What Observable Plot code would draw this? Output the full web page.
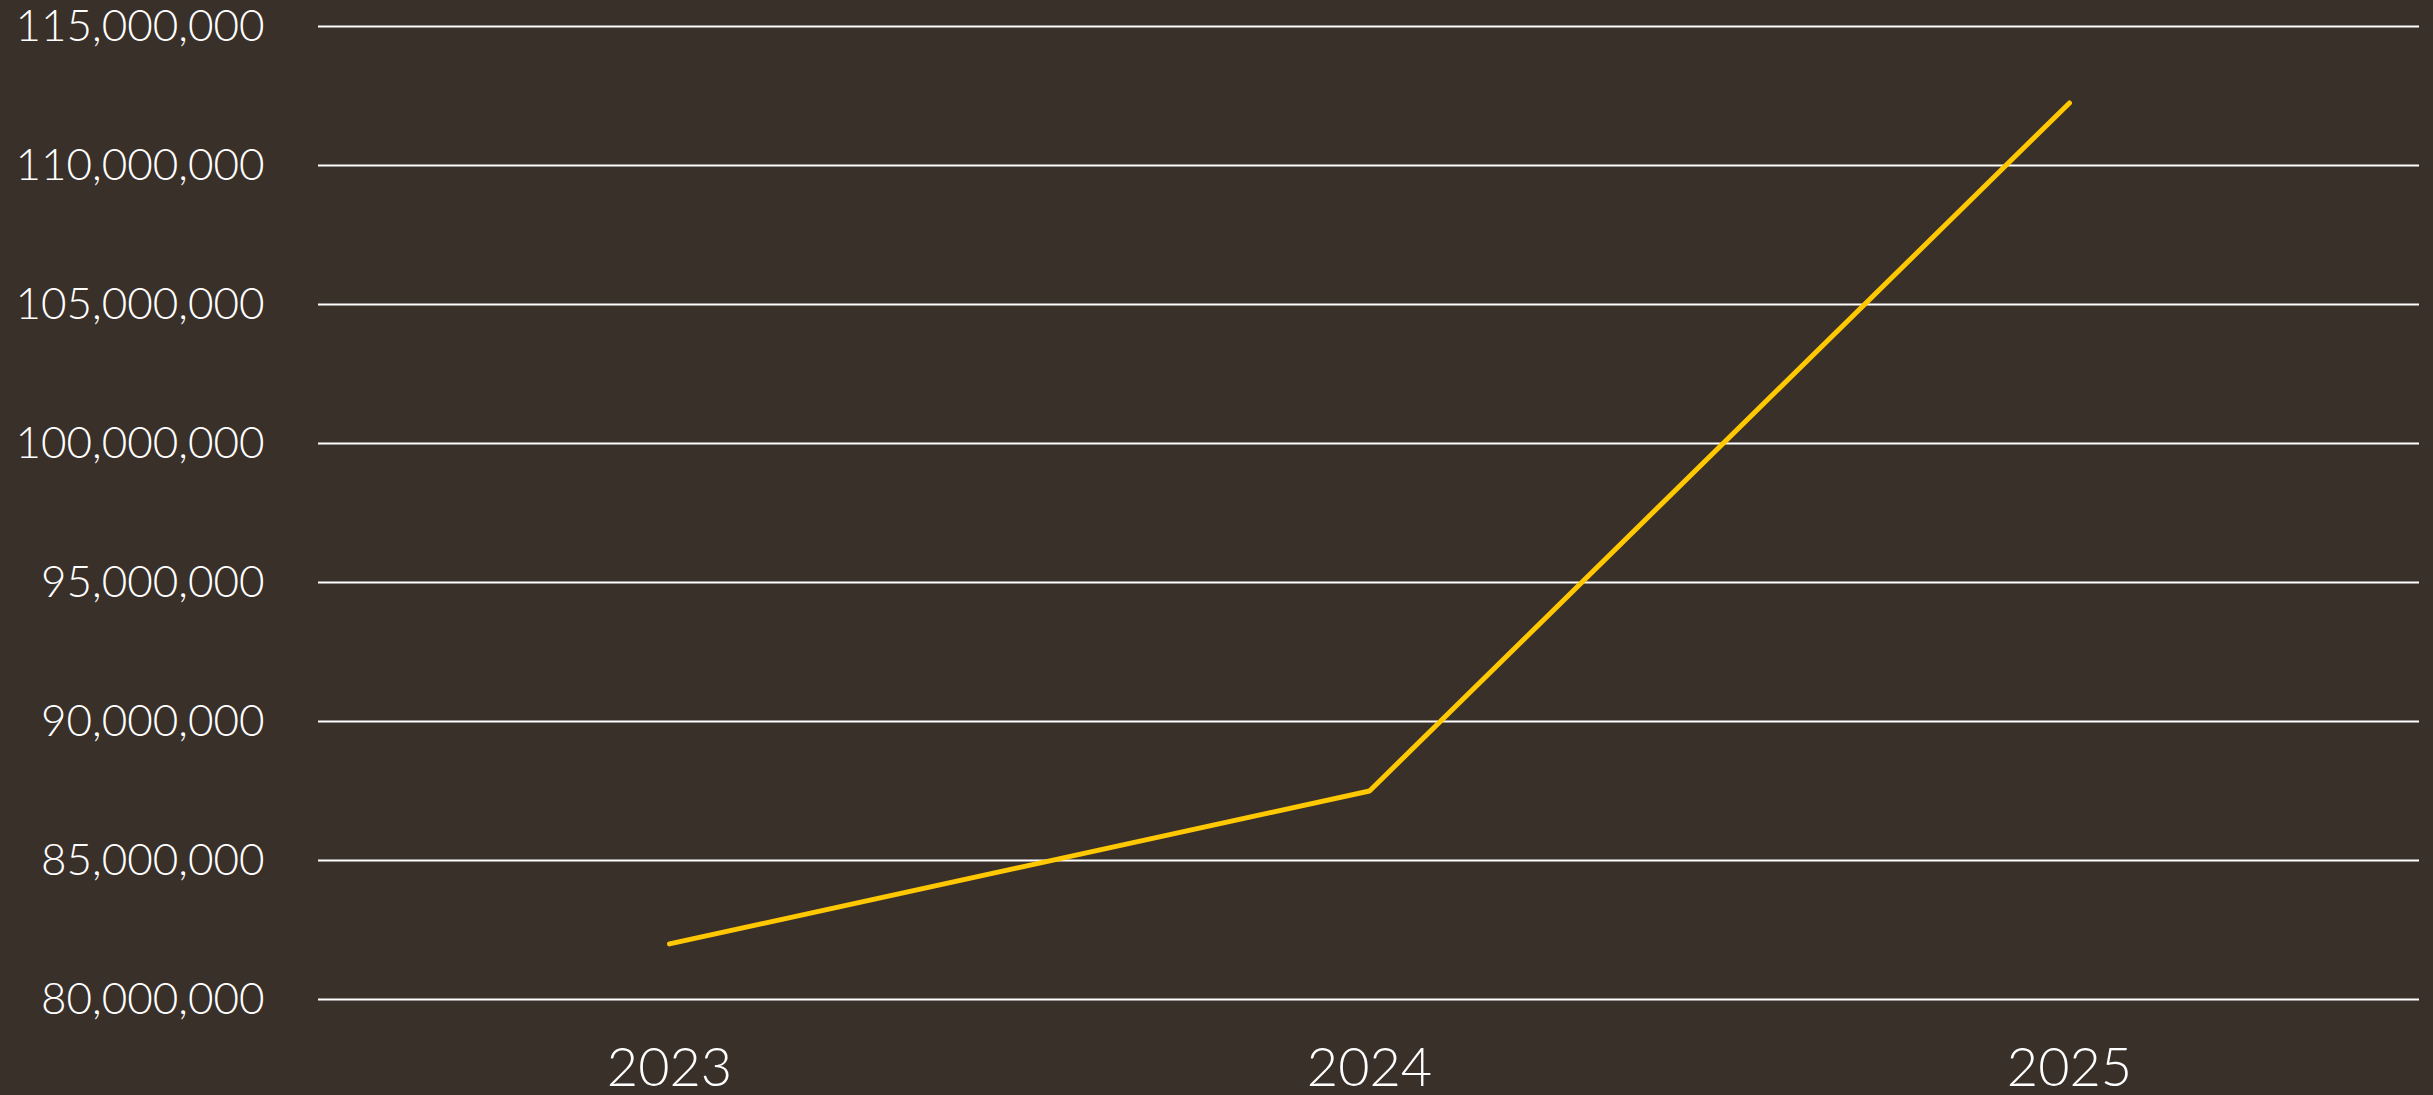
<!DOCTYPE html>
<html>
<head>
<meta charset="utf-8">
<script src="https://cdn.jsdelivr.net/npm/d3@7"></script>
<script src="https://cdn.jsdelivr.net/npm/@observablehq/plot@0.6"></script>
<style>
  html, body { margin: 0; padding: 0; background: #3a302a; }
</style>
</head>
<body>
<div id="chart"></div>
<script>
const years = ["2023", "2024", "2025"];
const values = [82000000, 87500000, 112250000];
const yTicks = [80000000, 85000000, 90000000, 95000000, 100000000, 105000000, 110000000, 115000000];

const data = years.map((year, i) => ({year, value: values[i]}));
const fmt = d3.format(",");

const chart = Plot.plot({
  width: 2433,
  height: 1095,
  marginLeft: 318,
  marginRight: 14,
  marginTop: 26,
  marginBottom: 96,
  style: {
    background: "#3a302a",
    color: "#ffffff",
    fontFamily: "Lato, 'Open Sans', sans-serif",
    fontWeight: 300
  },
  x: {type: "point", domain: years, padding: 0.5, label: null},
  y: {domain: [80000000, 115000000], label: null},
  marks: [
    Plot.ruleY(yTicks, {stroke: "#ffffff", strokeWidth: 2}),
    Plot.axisY({ticks: yTicks, tickFormat: fmt, tickSize: 0, tickPadding: 54, fontSize: 44, label: null}),
    Plot.axisX({tickSize: 0, tickPadding: 48, fontSize: 54, label: null}),
    Plot.line(data, {x: "year", y: "value", stroke: "#ffc800", strokeWidth: 5, strokeLinecap: "round", strokeLinejoin: "miter"})
  ]
});
document.getElementById("chart").appendChild(chart);
</script>
</body>
</html>
